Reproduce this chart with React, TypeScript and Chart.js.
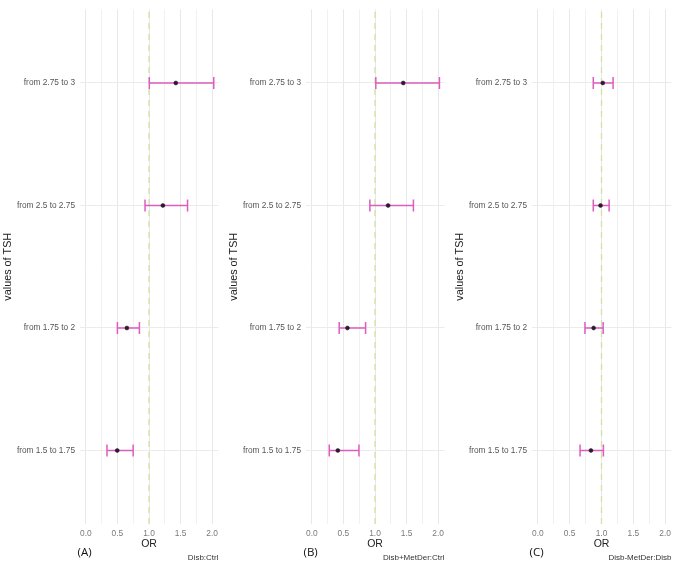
import React, { useEffect, useRef } from "react";
import { Chart, registerables } from "chart.js";

Chart.register(...registerables);
Chart.defaults.font.family = '"Liberation Sans", Arial, sans-serif';

// ---- data ----
const categories = ["from 1.5 to 1.75", "from 1.75 to 2", "from 2.5 to 2.75", "from 2.75 to 3"];
const xTickValues = [0, 0.5, 1.0, 1.5, 2.0];
const xGridValues = [0, 0.25, 0.5, 0.75, 1.0, 1.25, 1.5, 1.75, 2.0];
const refValue = 1;
const xMin = -0.1;
const xMax = 2.1;
const yMin = -0.6;
const yMax = 3.6;

const panelLabels = ["(A)", "(B)", "(C)"];
const panelNotes = ["Disb:Ctrl", "Disb+MetDer:Ctrl", "Disb-MetDer:Disb"];

const orA = [0.497, 0.65, 1.22, 1.424];
const lowA = [0.335, 0.5, 0.937, 1.005];
const highA = [0.749, 0.848, 1.61, 2.025];

const orB = [0.412, 0.564, 1.207, 1.447];
const lowB = [0.276, 0.433, 0.919, 1.013];
const highB = [0.746, 0.851, 1.608, 2.02];

const orC = [0.834, 0.876, 0.985, 1.02];
const lowC = [0.663, 0.74, 0.871, 0.871];
const highC = [1.03, 1.026, 1.12, 1.182];

const PINK = "#dd5cc0";
const DARK = "#2e1a2e";
const REF = "#cfe2a0";

const footerPlugin = {
  id: "footer",
  afterDraw(chart: any, _args: any, opts: any) {
    const { ctx, chartArea, height } = chart;
    ctx.save();
    ctx.textBaseline = "middle";
    ctx.fillStyle = "#111111";
    ctx.font = '11.5px "Open Sans", sans-serif';
    ctx.textAlign = "left";
    ctx.fillText(opts.label, chartArea.left - 2, height - 14);
    ctx.fillStyle = "#333333";
    ctx.font = '8px "Liberation Sans", Arial, sans-serif';
    ctx.textAlign = "right";
    ctx.fillText(opts.note, chartArea.right, height - 9);
    ctx.restore();
  },
};

function Panel(props: { est: number[]; low: number[]; high: number[]; label: string; note: string; width: number }) {
  const ref = useRef<HTMLCanvasElement | null>(null);
  useEffect(() => {
    if (!ref.current) return;
    const { est, low, high } = props;
    const datasets: any[] = [];
    datasets.push({
      type: "scatter",
      data: est.map((v, i) => ({ x: v, y: i })),
      pointRadius: 2,
      pointBackgroundColor: DARK,
      pointBorderColor: DARK,
      pointBorderWidth: 0.5,
      order: 0,
    });
    categories.forEach((_, i) => {
      datasets.push({
        type: "scatter",
        data: [
          { x: low[i], y: i },
          { x: high[i], y: i },
        ],
        showLine: true,
        borderColor: PINK,
        borderWidth: 1.5,
        pointStyle: "line",
        pointRotation: 90,
        pointRadius: 6,
        pointBorderColor: PINK,
        pointBorderWidth: 1.5,
        order: 1,
      });
    });
    datasets.push({
      type: "scatter",
      data: [
        { x: refValue, y: yMin },
        { x: refValue, y: yMax },
      ],
      showLine: true,
      borderColor: REF,
      borderWidth: 1.3,
      borderDash: [6, 5],
      pointRadius: 0,
      order: 2,
    });

    const chart = new Chart(ref.current, {
      type: "scatter",
      data: { datasets },
      plugins: [footerPlugin],
      options: {
        animation: false,
        responsive: false,
        events: [],
        layout: { padding: { top: 5, right: 6, left: 0, bottom: 0 } },
        plugins: {
          legend: { display: false },
          tooltip: { enabled: false },
          footer: { label: props.label, note: props.note },
        } as any,
        scales: {
          x: {
            type: "linear",
            min: xMin,
            max: xMax,
            afterBuildTicks: (s: any) => {
              s.ticks = xGridValues.map((v) => ({ value: v }));
            },
            afterFit: (s: any) => {
              s.height = 43;
            },
            ticks: {
              autoSkip: false,
              maxRotation: 0,
              padding: 4.5,
              color: "#7a7a7a",
              font: { size: 8.4 },
              callback: (v: any) => (xTickValues.includes(Number(v)) ? Number(v).toFixed(1) : ""),
            },
            grid: {
              drawTicks: false,
              color: (c: any) => (c.tick && xTickValues.includes(c.tick.value) ? "#e8e8e8" : "#f1f1f1"),
              lineWidth: 1,
            },
            border: { display: false },
            title: {
              display: true,
              text: "OR",
              color: "#222222",
              font: { size: 10.5 },
              padding: { top: 0, bottom: 16.5 },
            },
          },
          y: {
            type: "linear",
            min: yMin,
            max: yMax,
            afterBuildTicks: (s: any) => {
              s.ticks = categories.map((_, i) => ({ value: i }));
            },
            afterFit: (s: any) => {
              s.width = 79.5;
            },
            ticks: {
              autoSkip: false,
              padding: 4.5,
              color: "#555555",
              font: { size: 8.3 },
              callback: (v: any) => categories[Number(v)] ?? "",
            },
            grid: { drawTicks: false, color: "#ebebeb", lineWidth: 1 },
            border: { display: false },
            title: {
              display: true,
              text: "values of TSH",
              color: "#222222",
              font: { size: 10.8 },
              padding: { top: 2, bottom: 0 },
            },
          },
        },
      } as any,
    });
    return () => chart.destroy();
  }, []);
  return <canvas ref={ref} width={props.width} height={567} style={{ display: "block", width: props.width, height: 567 }} />;
}

export default function App() {
  return (
    <div style={{ position: "fixed", left: 0, top: 0, width: 679, height: 567, display: "flex", background: "#ffffff" }}>
      <Panel est={orA} low={lowA} high={highA} label={panelLabels[0]} note={panelNotes[0]} width={226} />
      <Panel est={orB} low={lowB} high={highB} label={panelLabels[1]} note={panelNotes[1]} width={226} />
      <Panel est={orC} low={lowC} high={highC} label={panelLabels[2]} note={panelNotes[2]} width={227} />
    </div>
  );
}
